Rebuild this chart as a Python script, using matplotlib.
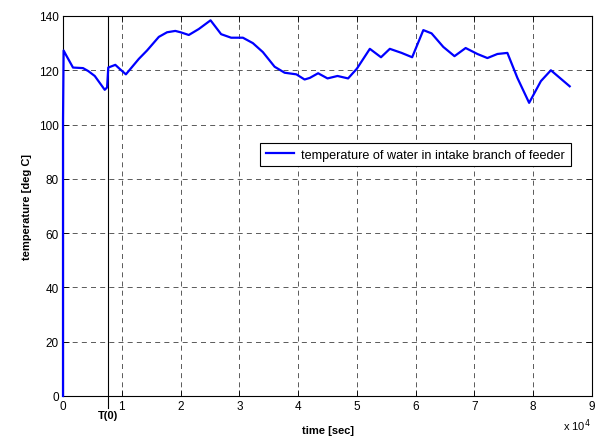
import matplotlib
matplotlib.use("Agg")
import matplotlib.pyplot as plt
import numpy as np

plt.rcParams["font.family"] = ["Liberation Sans", "DejaVu Sans"]

# time in units of 1e4 sec, temperature in deg C
time_1e4 = [0.0, 0.0, 0.01, 0.057, 0.17, 0.34, 0.43, 0.54, 0.71, 0.75, 0.77,
            0.89, 0.97, 1.07, 1.29, 1.43, 1.63, 1.77, 1.91, 2.0, 2.14, 2.31,
            2.51, 2.69, 2.86, 3.06, 3.23, 3.4, 3.6, 3.77, 3.97, 4.11, 4.2,
            4.34, 4.5, 4.67, 4.85, 5.0, 5.22, 5.41, 5.56, 5.76, 5.94, 6.13,
            6.27, 6.47, 6.66, 6.85, 7.05, 7.22, 7.39, 7.56, 7.73, 7.93, 8.13,
            8.30, 8.62]
temperature = [0.0, 101.5, 127.3, 125.4, 121.0, 120.8, 119.7, 117.9, 112.8,
               113.7, 121.0, 122.0, 120.4, 118.5, 124.2, 127.3, 132.3, 134.0,
               134.5, 134.0, 133.0, 135.2, 138.4, 133.3, 132.0, 132.0, 130.0,
               126.7, 121.3, 119.1, 118.5, 116.6, 117.2, 118.9, 117.0, 117.9,
               117.0, 120.6, 127.9, 124.8, 127.9, 126.4, 124.8, 134.8, 133.6,
               128.6, 125.2, 128.2, 126.0, 124.5, 126.0, 126.4, 117.2, 108.0,
               116.0, 120.0, 114.1]
t0_1e4 = 0.77
legend_label = "temperature of water in intake branch of feeder"

fig = plt.figure(figsize=(5.95, 4.39), dpi=100)
ax = fig.add_axes([0.1059, 0.0957, 0.8891, 0.8656])

x = np.array(time_1e4) * 1e4
ax.plot(x, temperature, color="#0000ff", linewidth=1.6, label=legend_label,
        zorder=4, clip_on=False)

# T(0) marker line, running a little below the axis
ax.plot([t0_1e4 * 1e4, t0_1e4 * 1e4], [140, -4.4], color="black",
        linewidth=0.8, clip_on=False, zorder=2)
ax.text(t0_1e4 * 1e4, -5.0, "T(0)", ha="center", va="top", fontsize=8,
        fontweight="bold")

ax.set_xlim(0, 9e4)
ax.set_ylim(0, 140)
ax.set_xticks(np.arange(0, 10) * 1e4)
ax.set_xticklabels([str(i) for i in range(10)])
ax.set_yticks(np.arange(0, 141, 20))
ax.tick_params(direction="in", length=4, width=0.6, labelsize=8.5,
               top=True, right=True, pad=3)
for s in ax.spines.values():
    s.set_linewidth(0.8)

ax.grid(True, color="black", linestyle=(0, (6, 5)), linewidth=0.6,
        alpha=0.75)

ax.set_xlabel("time [sec]", fontsize=8, fontweight="bold", labelpad=9)
ax.set_ylabel("temperature [deg C]", fontsize=8, fontweight="bold",
              labelpad=5)
fig.text(0.992, 0.012, r"x 10$^{4}$", ha="right", va="bottom", fontsize=8)

leg = ax.legend(loc="upper left", bbox_to_anchor=(0.3724, 0.666),
                fontsize=9.1, frameon=True, fancybox=False, edgecolor="black",
                framealpha=1, borderpad=0.45, handlelength=2.2,
                handletextpad=0.6, borderaxespad=0)
leg.get_frame().set_linewidth(0.8)

fig.savefig("out.png", dpi=100, facecolor="white")
